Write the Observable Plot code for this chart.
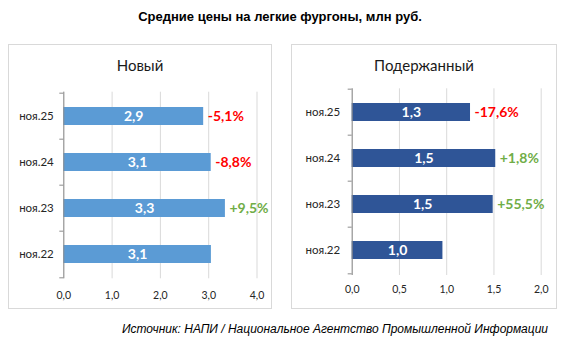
<!DOCTYPE html>
<html><head><meta charset="utf-8">
<script src="https://cdn.jsdelivr.net/npm/d3@7"></script>
<script src="https://cdn.jsdelivr.net/npm/@observablehq/plot@0.6"></script>
<style>
body{margin:0;background:#fff;width:568px;height:343px;position:relative;overflow:hidden}
.box{position:absolute;border:1px solid #d9d9d9;box-sizing:border-box}
.abs{position:absolute}
#title{left:0;width:560px;top:9px;line-height:16px;text-align:center;font:bold 13px "Liberation Sans",Arial,sans-serif;color:#000}
#caption{right:20px;top:322px;line-height:16px;font:italic 12px "Liberation Sans",Arial,sans-serif;color:#000}
.ptitle{text-align:center;font:15px Lato,sans-serif;color:#1a1a1a;line-height:18px}
#c1 svg,#c2 svg{position:absolute;left:0;top:0;overflow:visible}
#err{position:absolute;left:20px;top:100px;font:10px monospace;color:red;width:520px}
</style></head><body>
<div class="box" style="left:8px;top:44px;width:264px;height:265px"></div>
<div class="box" style="left:291px;top:44px;width:266px;height:265px"></div>
<div id="title" class="abs"></div>
<div id="t1" class="abs ptitle" style="left:8px;width:264px;top:56px"></div>
<div id="t2" class="abs ptitle" style="left:291px;width:266px;top:56px"></div>
<div id="caption" class="abs"></div>
<div id="c1" class="abs" style="left:8px;top:44px;width:264px;height:265px"></div>
<div id="c2" class="abs" style="left:291px;top:44px;width:266px;height:265px"></div>
<div id="err"></div>
<script>
const chartTitle = "Средние цены на легкие фургоны, млн руб.";
const sourceText = "Источник: НАПИ / Национальное Агентство Промышленной Информации";
const panelTitles = ["Новый", "Подержанный"];
const categories = ["ноя.25", "ноя.24", "ноя.23", "ноя.22"];
const newValues = [2.896, 3.052, 3.346, 3.056];
const newChanges = [-5.1, -8.8, 9.5, null];
const usedValues = [1.252, 1.519, 1.492, 0.96];
const usedChanges = [-17.6, 1.8, 55.5, null];
const newTicks = [0, 1, 2, 3, 4];
const usedTicks = [0, 0.5, 1, 1.5, 2];

document.getElementById("title").textContent = chartTitle;
document.getElementById("caption").textContent = sourceText;
document.getElementById("t1").textContent = panelTitles[0];
document.getElementById("t2").textContent = panelTitles[1];

const fmt = v => v.toFixed(1).replace(".", ",");
const pct = v => (v > 0 ? "+" : "") + fmt(v) + "%";

function panel({values, changes, ticks, color, width, height, m, ytp, xtp}) {
  const data = categories.map((c, i) => ({cat: c, value: values[i], change: changes[i]}));
  const step = (height - m.top - m.bottom) / categories.length;
  const axisColor = "#8c8c8c";
  return Plot.plot({
    width, height,
    marginLeft: m.left, marginRight: m.right, marginTop: m.top, marginBottom: m.bottom,
    style: {fontFamily: "Lato, sans-serif", color: "#262626", background: "transparent", overflow: "visible"},
    x: {domain: [ticks[0], ticks[ticks.length - 1]]},
    y: {domain: categories, paddingInner: 0.6, paddingOuter: 0.3},
    marks: [
      Plot.gridX(ticks, {stroke: "#d9d9d9", strokeOpacity: 1}),
      Plot.axisX(ticks, {tickFormat: fmt, tickSize: 0, tickPadding: xtp, label: null, fontSize: 10.5}),
      Plot.axisY({tickSize: 0, tickPadding: ytp, label: null, fontSize: 11.5}),
      Plot.barX(data, {x: "value", y: "cat", fill: color}),
      Plot.ruleX([0], {stroke: axisColor}),
      Plot.ruleY(categories, {y: d => d, x1: 0, x2: 0, insetLeft: -4, dy: -step / 2, stroke: axisColor}),
      Plot.ruleY(categories.slice(-1), {y: d => d, x1: 0, x2: 0, insetLeft: -4, dy: step / 2, stroke: axisColor}),
      Plot.text(data, Plot.stackX({x: "value", y: "cat", text: d => fmt(d.value), fill: "white", fontWeight: "bold", fontSize: 14})),
      Plot.text(data.filter(d => d.change != null), {
        x: "value", y: "cat", text: d => pct(d.change),
        fill: d => d.change < 0 ? "#FF0000" : "#70AD47",
        textAnchor: "start", dx: 4, fontWeight: "bold", fontSize: 14
      })
    ]
  });
}

try {
  document.getElementById("c1").appendChild(panel({
    values: newValues, changes: newChanges, ticks: newTicks, color: "#5B9BD5",
    width: 264, height: 265, m: {left: 55.3, right: 15.5, top: 47.7, bottom: 30.7}, ytp: 10, xtp: 13
  }));
  document.getElementById("c2").appendChild(panel({
    values: usedValues, changes: usedChanges, ticks: usedTicks, color: "#2F5597",
    width: 266, height: 265, m: {left: 60.7, right: 16.3, top: 44.3, bottom: 34}, ytp: 12, xtp: 10
  }));
} catch (e) {
  document.getElementById("err").textContent = String(e && e.stack || e);
}
</script>
</body></html>
